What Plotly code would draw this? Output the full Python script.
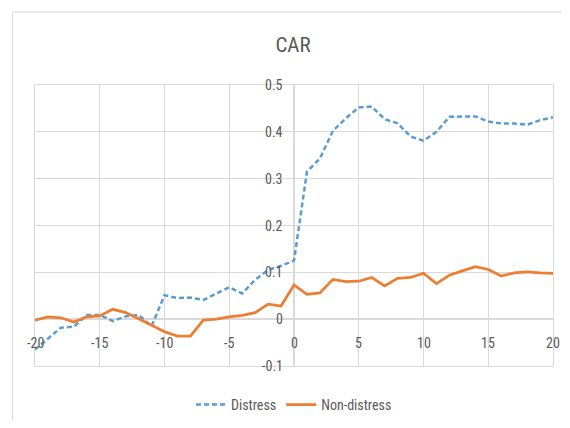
import plotly.graph_objects as go

event_days = list(range(-20, 21))
distress = [-0.065, -0.042, -0.018, -0.016, 0.009, 0.009, -0.004, 0.006, 0.009, -0.015,
            0.051, 0.045, 0.046, 0.041, 0.054, 0.068, 0.055, 0.084, 0.105, 0.114,
            0.125, 0.315, 0.343, 0.402, 0.429, 0.452, 0.454, 0.427, 0.418, 0.390,
            0.381, 0.400, 0.432, 0.433, 0.433, 0.422, 0.418, 0.418, 0.415, 0.425, 0.431]
non_distress = [-0.002, 0.005, 0.003, -0.006, 0.005, 0.007, 0.021, 0.014, 0.001, -0.013,
                -0.027, -0.036, -0.036, -0.002, 0.000, 0.005, 0.008, 0.014, 0.032, 0.028,
                0.073, 0.053, 0.056, 0.085, 0.080, 0.081, 0.089, 0.071, 0.087, 0.089,
                0.098, 0.076, 0.094, 0.103, 0.112, 0.106, 0.092, 0.099, 0.101, 0.099, 0.098]
x_ticks = [-20, -15, -10, -5, 0, 5, 10, 15, 20]
y_ticks = [-0.1, 0, 0.1, 0.2, 0.3, 0.4, 0.5]
y_tick_labels = ["-0.1", "0", "0.1", "0.2", "0.3", "0.4", "0.5"]

FONT = "Liberation Sans Narrow, Arial Narrow, Roboto Condensed, Liberation Sans, sans-serif"
TXT = "#595959"
GRID = "#d9d9d9"

# page body has an 8px margin; keep the figure inside the window (no scrolling)
W, H = 554, 412
L, T, PW, PH = 26.5, 77, 519, 281

fig = go.Figure()
fig.add_trace(go.Scatter(x=event_days, y=distress, mode="lines", name="Distress",
                         line=dict(color="#5B9BD5", width=2.5, dash="5px,3px")))
fig.add_trace(go.Scatter(x=event_days, y=non_distress, mode="lines", name="Non-distress",
                         line=dict(color="#ED7D31", width=2.75)))

annotations = []
for v, lab in zip(y_ticks, y_tick_labels):
    annotations.append(dict(x=0, y=v, xref="x", yref="y", text=lab, showarrow=False,
                            xanchor="right", yanchor="middle", xshift=-9,
                            font=dict(family=FONT, size=14, color=TXT)))
for v in x_ticks:
    annotations.append(dict(x=v, y=0, xref="x", yref="y", text=str(v), showarrow=False,
                            xanchor="center", yanchor="middle", yshift=-24,
                            font=dict(family=FONT, size=14, color=TXT)))

fig.update_layout(
    width=W, height=H,
    margin=dict(l=L, r=W - L - PW, t=T, b=H - T - PH, autoexpand=False),
    paper_bgcolor="white", plot_bgcolor="white",
    title=dict(text="CAR", x=285 / W, xanchor="center", y=1 - 37 / H, yanchor="middle",
               font=dict(family=FONT, size=21, color=TXT)),
    xaxis=dict(range=[-20, 20], dtick=5, tick0=0, showgrid=True, gridcolor=GRID, gridwidth=1,
               zeroline=True, zerolinecolor=GRID, zerolinewidth=1.5,
               showline=True, linecolor=GRID, mirror=True, showticklabels=False, ticks=""),
    yaxis=dict(range=[-0.1, 0.5], dtick=0.1, tick0=0, showgrid=True, gridcolor=GRID, gridwidth=1,
               zeroline=True, zerolinecolor=GRID, zerolinewidth=1.5,
               showline=True, linecolor=GRID, mirror=True, showticklabels=False, ticks=""),
    legend=dict(orientation="h", x=0.5, xanchor="center", y=-39 / PH, yanchor="middle",
                font=dict(family=FONT, size=14, color=TXT), itemwidth=30),
    annotations=annotations,
    showlegend=True,
)
fig.add_shape(type="rect", xref="paper", yref="paper",
              x0=(4 - L) / PW, x1=(W + 10 - L) / PW,
              y0=(T + PH - (H + 10)) / PH, y1=(T + PH - 4) / PH,
              line=dict(color=GRID, width=1), fillcolor="rgba(0,0,0,0)", layer="below")

fig.write_html("out.html")
